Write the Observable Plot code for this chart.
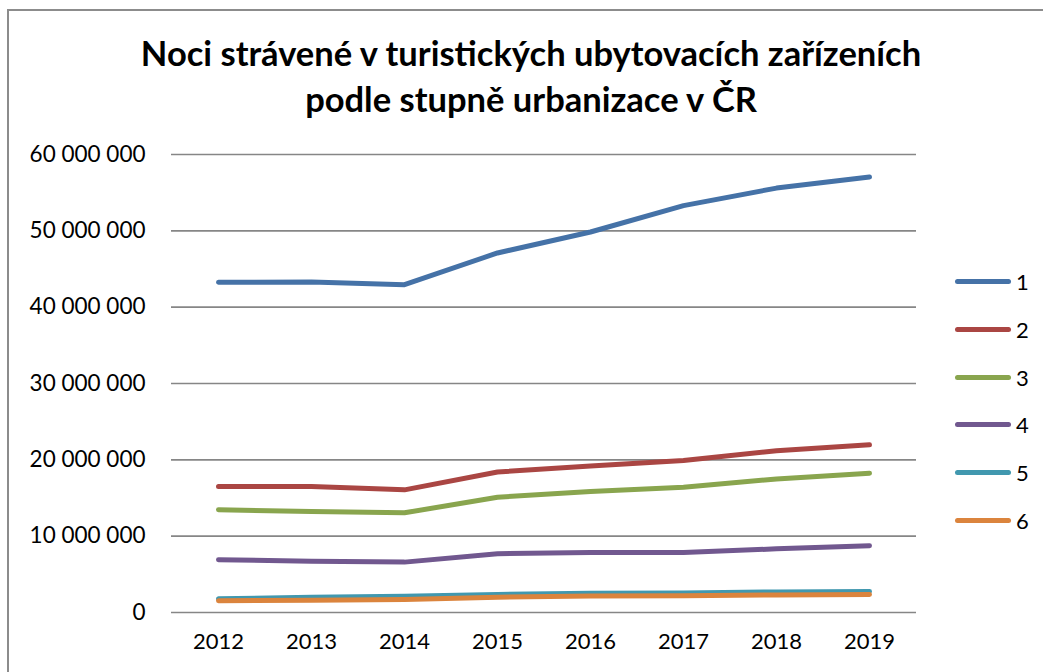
<!DOCTYPE html>
<html>
<head>
<meta charset="utf-8">
<script src="https://cdn.jsdelivr.net/npm/d3@7"></script>
<script src="https://cdn.jsdelivr.net/npm/@observablehq/plot@0.6"></script>
<style>
  html, body { margin: 0; padding: 0; background: #fff; }
  #wrap { position: relative; width: 1043px; height: 672px; overflow: hidden; font-family: Lato, "Open Sans", sans-serif; }
  #frame { position: absolute; left: 7px; top: 9px; width: 1100px; height: 700px; border-left: 2px solid #8c8c8c; border-top: 2px solid #8c8c8c; box-sizing: border-box; }
  #title { position: absolute; left: 0; width: 1062px; top: 30px; text-align: center; font-weight: 700; font-size: 34.5px; line-height: 46px; color: #000; }
  #chart { position: absolute; left: 0; top: 0; }
  #legend { position: absolute; left: 955px; top: 258px; }
  .li { display: flex; align-items: center; height: 47.7px; }
  .sw { width: 56px; height: 5px; border-radius: 3px; }
  .lb { font-size: 22px; margin-left: 5px; color: #000; }
</style>
</head>
<body>
<div id="wrap">
  <div id="frame"></div>
  <div id="title">Noci strávené v turistických ubytovacích zařízeních<br>podle stupně urbanizace v ČR</div>
  <div id="chart"></div>
  <div id="legend"></div>
</div>
<script>
const years = ["2012","2013","2014","2015","2016","2017","2018","2019"];
const seriesNames = ["1","2","3","4","5","6"];
const colors = ["#4572A7","#AA4643","#89A54E","#71588F","#4198AF","#DB843D"];
const s1 = [43250000, 43300000, 42950000, 47100000, 49850000, 53300000, 55600000, 57050000];
const s2 = [16500000, 16500000, 16070000, 18400000, 19200000, 19900000, 21200000, 21970000];
const s3 = [13450000, 13230000, 13060000, 15100000, 15850000, 16400000, 17500000, 18250000];
const s4 = [6900000, 6730000, 6600000, 7700000, 7860000, 7860000, 8340000, 8740000];
const s5 = [1790000, 2000000, 2140000, 2360000, 2530000, 2550000, 2700000, 2750000];
const s6 = [1530000, 1600000, 1700000, 2000000, 2150000, 2200000, 2300000, 2360000];
const yTicks = [0, 10000000, 20000000, 30000000, 40000000, 50000000, 60000000];

const allSeries = [s1, s2, s3, s4, s5, s6];
const data = [];
allSeries.forEach((vals, i) => vals.forEach((v, j) => data.push({series: seriesNames[i], year: years[j], value: v})));

const loc = d3.formatLocale({decimal: ",", thousands: " ", grouping: [3], currency: ["", ""]});
const fmt = loc.format(",.0f");

const plot = Plot.plot({
  width: 1043,
  height: 672,
  marginLeft: 171,
  marginRight: 127,
  marginTop: 154,
  marginBottom: 60,
  style: {fontFamily: "Lato, 'Open Sans', sans-serif", fontSize: "22px", color: "#000", background: "transparent"},
  x: {type: "point", domain: years, padding: 0.5, label: null},
  y: {domain: [0, 60000000], label: null},
  color: {domain: seriesNames, range: colors},
  marks: [
    Plot.ruleY(yTicks, {stroke: "#868686", strokeWidth: 1.6}),
    Plot.axisY({ticks: yTicks, tickSize: 0, tickPadding: 26, tickFormat: fmt, line: true, stroke: "#868686", strokeWidth: 1.6, fill: "#000", label: null, fontSize: 22.5}),
    Plot.axisX({tickSize: 0, tickPadding: 21, label: null, fill: "#000", fontSize: 22}),
    Plot.lineY(data, {x: "year", y: "value", stroke: "series", z: "series", strokeWidth: 5, strokeLinecap: "round", strokeLinejoin: "round"})
  ]
});
document.getElementById("chart").appendChild(plot);

const leg = document.getElementById("legend");
seriesNames.forEach((n, i) => {
  const row = document.createElement("div");
  row.className = "li";
  row.innerHTML = `<div class="sw" style="background:${colors[i]}"></div><div class="lb">${n}</div>`;
  leg.appendChild(row);
});
</script>
</body>
</html>
